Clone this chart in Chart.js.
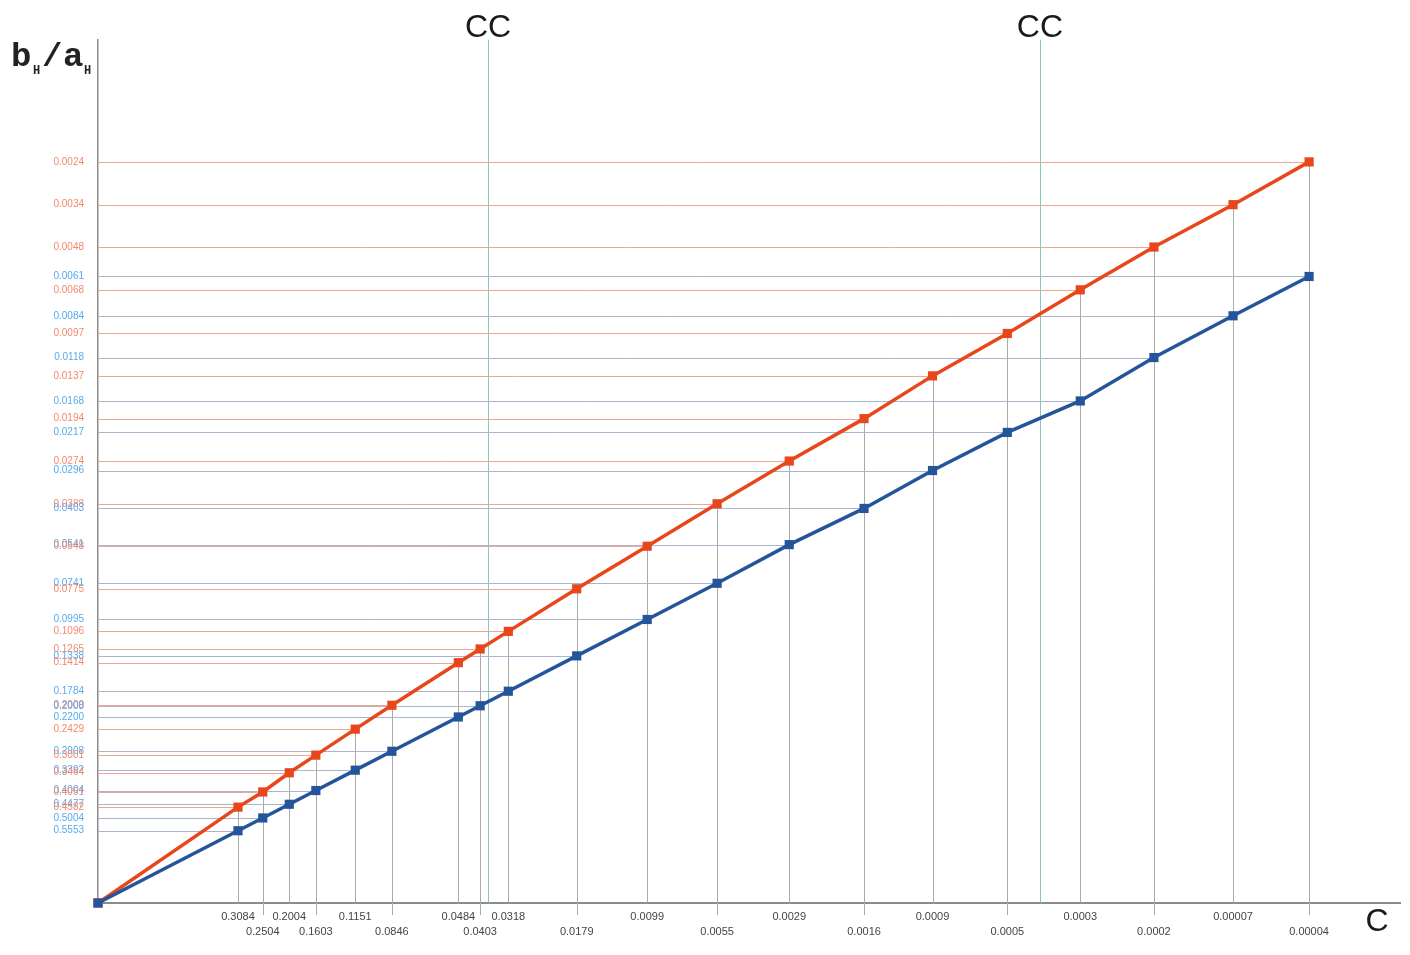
<!DOCTYPE html>
<html>
<head>
<meta charset="utf-8">
<script src="https://cdn.jsdelivr.net/npm/chart.js@4/dist/chart.umd.min.js"></script>
<style>
  html, body { margin: 0; padding: 0; background: #fff; }
  #wrap { width: 1410px; height: 955px; position: relative; }
</style>
</head>
<body>
<div id="wrap"><canvas id="chart"></canvas></div>
<script>
// ─── Data ─────────────────────────────────────────────────────────────────────
// C values as printed under the axis, and the positions they sit at
const C_LABELS = ['0.3084', '0.2504', '0.2004', '0.1603', '0.1151', '0.0846', '0.0484', '0.0403', '0.0318', '0.0179',
                  '0.0099', '0.0055', '0.0029', '0.0016', '0.0009', '0.0005', '0.0003', '0.0002', '0.00007', '0.00004'];
const C_VALUES = [0.3084, 0.2504, 0.2004, 0.1603, 0.1151, 0.0846, 0.0484, 0.0403, 0.0318, 0.0179,
                  0.0099, 0.0055, 0.0030, 0.0016, 0.0009, 0.00048, 0.00026, 0.00014, 0.000072, 0.000038];

// b_H/a_H for each C
const RED_VALUES  = [0.4582, 0.4051, 0.3464, 0.3001, 0.2429, 0.2000, 0.1414, 0.1265, 0.1096, 0.0775,
                     0.0548, 0.0388, 0.0274, 0.0194, 0.0137, 0.0097, 0.0068, 0.0048, 0.0034, 0.0024];
const BLUE_VALUES = [0.5553, 0.5004, 0.4477, 0.4004, 0.3392, 0.2908, 0.2200, 0.2008, 0.1784, 0.1338,
                     0.0995, 0.0741, 0.0541, 0.0403, 0.0296, 0.0217, 0.0168, 0.0118, 0.0084, 0.0061];

const ORIGIN = { x: 1, y: 1 };
const CC_VALUES = [0.0377, 0.000365];

const RED  = '#e8471c';
const BLUE = '#24559a';

// ─── Reference lines: horizontals to each point, drop lines, CC markers ──────
const refLines = {
  id: 'refLines',
  beforeDatasetsDraw(chart) {
    const { ctx, chartArea: a, scales: { x, y } } = chart;
    ctx.save();
    ctx.lineWidth = 1;

    C_VALUES.forEach((c, i) => {
      const xp = Math.round(x.getPixelForValue(c)) + 0.5;
      const yr = Math.round(y.getPixelForValue(RED_VALUES[i])) + 0.5;
      const yb = Math.round(y.getPixelForValue(BLUE_VALUES[i])) + 0.5;

      ctx.strokeStyle = '#aab5c9';
      ctx.beginPath(); ctx.moveTo(a.left, yb); ctx.lineTo(xp, yb); ctx.stroke();
      ctx.strokeStyle = '#f4a58e';
      ctx.beginPath(); ctx.moveTo(a.left, yr); ctx.lineTo(xp, yr); ctx.stroke();

      ctx.strokeStyle = '#a9a9a9';
      ctx.beginPath();
      ctx.moveTo(xp, a.bottom + (i % 2 ? 12 : 0));
      ctx.lineTo(xp, Math.min(yr, yb));
      ctx.stroke();
    });

    ctx.strokeStyle = '#86c8bc';
    CC_VALUES.forEach(c => {
      const xp = Math.round(x.getPixelForValue(c)) + 0.5;
      ctx.beginPath(); ctx.moveTo(xp, a.top); ctx.lineTo(xp, a.bottom); ctx.stroke();
    });
    ctx.restore();
  },
  afterDraw(chart) {
    const { ctx, scales: { x } } = chart;
    ctx.save();
    ctx.fillStyle = '#1a1a1a';
    ctx.textAlign = 'center';
    ctx.textBaseline = 'middle';
    ctx.font = '32px "Liberation Sans", Arial, sans-serif';
    CC_VALUES.forEach(c => ctx.fillText('CC', x.getPixelForValue(c), 28));
    ctx.fillText('C', 1377, 922);

    // b_H / a_H
    ctx.fillStyle = '#222';
    ctx.textAlign = 'left';
    ctx.textBaseline = 'alphabetic';
    ctx.font = 'bold 34px "Liberation Mono", "DejaVu Sans Mono", monospace';
    ctx.fillText('b', 11, 66);
    ctx.fillText('/', 42, 66);
    ctx.fillText('a', 63, 66);
    ctx.font = 'bold 12px "Liberation Mono", monospace';
    ctx.fillText('H', 33, 74);
    ctx.fillText('H', 84, 74);
    ctx.restore();
  }
};

const toPoints = vals => [ORIGIN, ...C_VALUES.map((c, i) => ({ x: c, y: vals[i] }))];

new Chart(document.getElementById('chart'), {
  type: 'line',
  data: {
    datasets: [
      {
        label: 'blue', data: toPoints(BLUE_VALUES), clip: false,
        borderColor: BLUE, backgroundColor: BLUE, borderWidth: 3.5,
        pointStyle: 'rect', pointRadius: 6.5, pointBorderWidth: 0,
      },
      {
        label: 'red', data: toPoints(RED_VALUES), clip: false,
        borderColor: RED, backgroundColor: RED, borderWidth: 3.5,
        pointStyle: 'rect', pointRadius: 6.5, pointBorderWidth: 0,
      },
    ]
  },
  options: {
    responsive: true, maintainAspectRatio: false, animation: false,
    layout: { padding: { top: 40, right: 10, left: 0, bottom: 0 } },
    plugins: { legend: { display: false }, tooltip: { enabled: false } },
    scales: {
      x: {
        type: 'logarithmic', reverse: true, min: 0.0000177, max: 1, bounds: 'data',
        grid: { display: false, drawTicks: false },
        border: { display: true, color: '#8c8c8c', width: 2 },
        afterBuildTicks: s => { s.ticks = C_VALUES.map(v => ({ value: v })); },
        afterFit: s => { s.height = 52; },
        ticks: {
          autoSkip: false, maxRotation: 0, minRotation: 0, padding: 6,
          color: '#444',
          font: { family: '"Liberation Sans", Arial, sans-serif', size: 11, lineHeight: 1.4 },
          callback: (v, i) => i % 2 ? ['', C_LABELS[i]] : C_LABELS[i],
        }
      },
      y: {
        type: 'logarithmic', reverse: true, min: 0.00089, max: 1, bounds: 'data',
        grid: { display: false, drawTicks: false },
        border: { display: true, color: '#8c8c8c', width: 1.5 },
        afterBuildTicks: s => {
          s.ticks = [...RED_VALUES, ...BLUE_VALUES].sort((p, q) => p - q).map(v => ({ value: v }));
        },
        afterFit: s => { s.width = 98; },
        ticks: {
          autoSkip: false, padding: 14,
          font: { family: '"Liberation Sans", Arial, sans-serif', size: 10 },
          color: c => RED_VALUES.includes(c.tick.value) ? '#f5876b' : '#58aaee',
          callback: v => Number(v).toFixed(4),
        }
      }
    }
  },
  plugins: [refLines]
});
</script>
</body>
</html>
